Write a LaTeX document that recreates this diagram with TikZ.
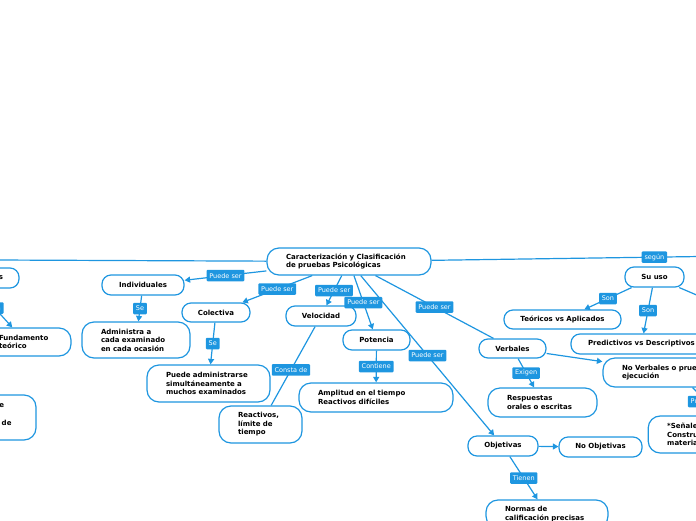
\documentclass[tikz,border=0pt]{standalone}
\usepackage{fontspec}
\setmainfont{DejaVu Sans}
\usetikzlibrary{arrows.meta}
\definecolor{azul}{RGB}{30,150,224}
\tikzset{
  idea/.style={draw=azul, line width=1.2pt, fill=white, rounded corners=9pt,
    font=\fontsize{7}{8.5}\selectfont\bfseries, inner sep=3pt, minimum height=20pt},
  nota/.style={idea, rounded corners=12pt, align=left, inner xsep=19pt},
  trozo/.style={font=\fontsize{7}{8.5}\selectfont\bfseries, anchor=base east, inner sep=0pt},
  etiq/.style={fill=azul, text=white, font=\fontsize{6.5}{7}\selectfont, inner xsep=2.8pt,
    inner ysep=1.5pt, minimum height=11.5pt, rounded corners=1pt},
  flecha/.style={draw=azul, line width=1.2pt, -{Triangle[length=5.5pt,width=6pt]}},
  linea/.style={draw=azul, line width=1.2pt}
}
\begin{document}
\begin{tikzpicture}[x=1pt, y=-1pt]
  \useasboundingbox (0,0) rectangle (696,520);
  \clip (0,0) rectangle (696,520);
  \node[nota, text width=126pt, minimum height=27pt] (main) at (349,261.5) {Caracterización y Clasificación\\de pruebas Psicológicas};
  \node[idea, minimum width=103pt, text width=71pt, align=right, inner xsep=16pt] (izq) at (-32.5,278) {s};
  \node[nota, text width=53pt, minimum height=28pt] (fund) at (25.5,342) {Fundamento\\teórico};
  \node[nota, minimum width=120pt, minimum height=45pt] (frag) at (-24,417.5) {};
  \node[trozo] (fragA) at (4.3,407.5) {e};
  \node[trozo] (fragB) at (11.7,425) {de};
  \node[idea, minimum width=82pt] (indiv) at (143,285) {Individuales};
  \node[nota, text width=70pt, minimum height=36pt] (admin) at (136,340) {Administra a\\cada examinado\\en cada ocasión};
  \node[idea, minimum width=68pt, minimum height=19pt] (colect) at (216,312.5) {Colectiva};
  \node[nota, text width=85pt, minimum height=37pt] (pueadm) at (208.5,383.5) {Puede administrarse\\simultáneamente a\\muchos examinados};
  \node[idea, minimum width=70pt] (veloc) at (321,316) {Velocidad};
  \node[nota, text width=45pt, minimum height=37pt] (react) at (260.5,424.5) {Reactivos,\\límite de\\tiempo};
  \node[idea, minimum width=67pt] (poten) at (376.5,340) {Potencia};
  \node[nota, text width=116pt, minimum height=29pt] (ampl) at (376,397.5) {Amplitud en el tiempo\\Reactivos difíciles};
  \node[idea, minimum width=67pt, minimum height=19pt] (verbal) at (512.5,348.5) {Verbales};
  \node[nota, text width=71pt, minimum height=29pt] (resp) at (542.5,402.5) {Respuestas\\orales o escritas};
  \node[nota, text width=110pt, minimum height=29pt] (noverb) at (677,372.5) {No Verbales o pruebas de\\ejecución};
  \node[nota, text width=147pt, minimum height=37pt] (senal) at (740.7,434.5) {*Señales\\*Construcción de\\material};
  \node[idea, minimum width=70pt] (objet) at (503,446) {Objetivas};
  \node[idea, minimum width=83pt] (noobj) at (600.5,447) {No Objetivas};
  \node[nota, text width=84pt, minimum height=28pt] (normas) at (547,514) {Normas de\\calificación precisas};
  \node[idea, minimum width=59pt] (suuso) at (654.5,277) {Su uso};
  \node[idea, minimum width=117pt, minimum height=19pt] (teor) at (562.5,319.5) {Teóricos vs Aplicados};
  \node[idea, minimum width=141pt] (predic) at (641.5,344) {Predictivos vs Descriptivos};
  \coordinate (finIzq) at (-4,260);
  \coordinate (finDer) at (700,256.5);
  \coordinate (finUso) at (720,305);
  \foreach \de/\a/\txt in {main/indiv/Puede ser, main/colect/Puede ser, main/veloc/Puede ser,
      main/poten/Puede ser, main/objet/Puede ser, izq/fund/Son, indiv/admin/Se, colect/pueadm/Se,
      poten/ampl/Contiene, verbal/resp/Exigen, objet/normas/Tienen, suuso/teor/Son,
      suuso/predic/Son, noverb/senal/Puede ser} {
    \draw[flecha] (\de) -- node[etiq] {\txt} (\a);
  }
  \draw[flecha] (verbal) -- (noverb);
  \draw[flecha] (objet) -- (noobj);
  \draw[linea] (main) -- node[etiq] {Puede ser} (verbal);
  \draw[linea] (veloc) -- node[etiq, pos=0.55] {Consta de} (react);
  \draw[linea] (main) -- (finIzq);
  \draw[linea] (main) -- node[etiq, pos=0.83] {según} (finDer);
  \draw[linea] (suuso) -- (finUso);
\end{tikzpicture}
\end{document}
